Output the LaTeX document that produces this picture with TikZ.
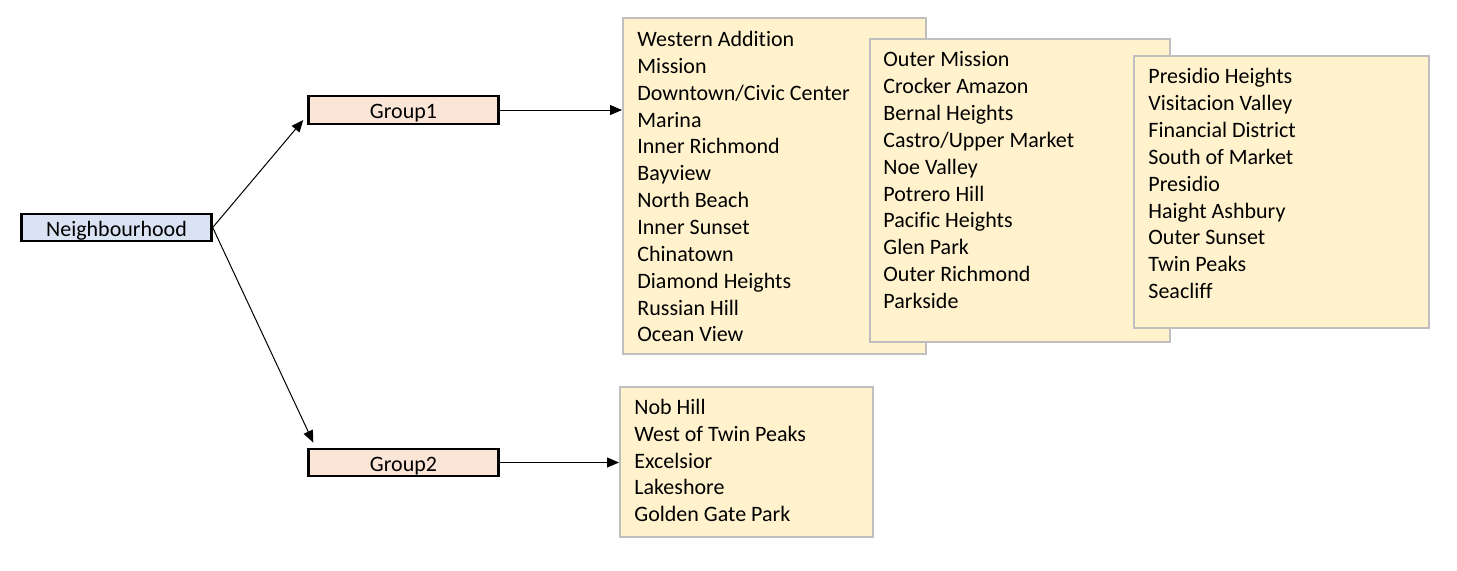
\documentclass[tikz,border=0pt]{standalone}
\usepackage{fontspec}
\setmainfont{Carlito}[Ligatures={NoCommon}]
\usetikzlibrary{arrows.meta}
\definecolor{rootfill}{HTML}{DAE3F3}
\definecolor{groupfill}{HTML}{FBE5D6}
\definecolor{listfill}{HTML}{FFF2CC}
\definecolor{listedge}{HTML}{BFBFBF}
\newcommand{\linkS}[2]{%
  \draw[-{Triangle[length=6pt, width=5pt]}, line width=0.5pt] (#1) -- (#2);%
}

\begin{document}
\begin{tikzpicture}[
  x=0.5pt,
  y=-0.5pt,
  every node/.style={font=\fontsize{11}{13}\selectfont, inner sep=0pt},
  catbox/.style={draw=black, line width=1.2pt, minimum width=95pt, minimum height=13.75pt,
    text height=8.5pt, text depth=0pt},
  rootNode/.style={catbox, fill=rootfill},
  groupNode/.style={catbox, fill=groupfill},
  listNode/.style={draw=listedge, fill=listfill, line width=1pt},
  item/.style={anchor=base west}
]
  \useasboundingbox (0,0) rectangle (1457,570);

  % Category boxes.
  \node[rootNode] (nb) at (116.5, 227.5) {Neighbourhood};
  \node[groupNode] (g1) at (403.5, 110) {Group1};
  \node[groupNode] (g2) at (403.5, 462.5) {Group2};

  % Group1 lists, drawn back to front.
  \node[listNode, minimum width=151.5pt, minimum height=168pt] (list1) at (774.5, 186) {};
  \foreach \t [count=\i] in {Western Addition, Mission, Downtown/Civic Center, Marina,
      Inner Richmond, Bayview, North Beach, Inner Sunset, Chinatown,
      Diamond Heights, Russian Hill, Ocean View}
    \node[item] (a\i) at (637, {46.5+26.85*(\i-1)}) {\t};

  \node[listNode, minimum width=150pt, minimum height=151.5pt] (list2) at (1020, 190.5) {};
  \foreach \t [count=\i] in {Outer Mission, Crocker Amazon, Bernal Heights,
      Castro/Upper Market, Noe Valley, Potrero Hill, Pacific Heights,
      Glen Park, Outer Richmond, Parkside}
    \node[item] (b\i) at (883, {66.5+26.9*(\i-1)}) {\t};

  \node[listNode, minimum width=147.5pt, minimum height=136pt] (list3) at (1281.5, 192) {};
  \foreach \t [count=\i] in {Presidio Heights, Visitacion Valley, Financial District,
      South of Market, Presidio, Haight Ashbury, Outer Sunset, Twin Peaks, Seacliff}
    \node[item] (c\i) at (1148, {83.5+26.9*(\i-1)}) {\t};

  % Group2 list.
  \node[listNode, minimum width=126.5pt, minimum height=75pt] (list4) at (746.5, 462) {};
  \foreach \t [count=\i] in {Nob Hill, West of Twin Peaks, Excelsior, Lakeshore,
      Golden Gate Park}
    \node[item] (d\i) at (634, {414.5+26.75*(\i-1)}) {\t};

  % Connectors.
  \linkS{nb.east}{[shift={(-4,-5)}]g1.south west}
  \linkS{nb.east}{[shift={(6,-5)}]g2.north west}
  \linkS{g1.east}{g1.east -| list1.west}
  \linkS{g2.east}{g2.east -| list4.west}
\end{tikzpicture}
\end{document}
